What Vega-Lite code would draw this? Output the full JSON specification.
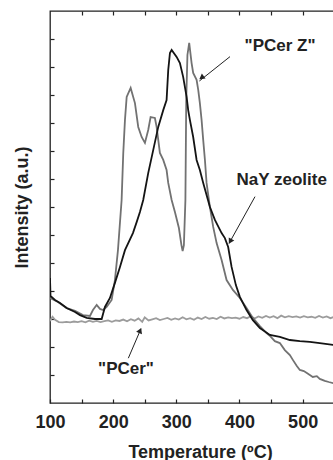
{
  "$schema": "https://vega.github.io/schema/vega-lite/v6.json",
  "width": 300,
  "height": 392,
  "autosize": "none",
  "padding": {"left": 50, "top": 11, "right": 0, "bottom": 57},
  "background": "white",
  "config": {
    "font": "Liberation Sans",
    "view": {"stroke": "#222", "strokeWidth": 1.3},
    "axis": {"grid": false, "domain": false, "tickColor": "#222", "tickWidth": 1.2, "labelColor": "#222", "titleColor": "#222", "labelFont": "Liberation Sans", "titleFont": "Liberation Sans"}
  },
  "resolve": {"axis": {"x": "independent", "y": "independent"}},
  "datasets": {
    "curves": [
      {"s": "PCer", "T": 100, "v": 2.93}, {"s": "PCer", "T": 104, "v": 3.08}, {"s": "PCer", "T": 108, "v": 2.97}, {"s": "PCer", "T": 114, "v": 2.89},
      {"s": "PCer", "T": 120, "v": 2.88}, {"s": "PCer", "T": 126, "v": 2.9}, {"s": "PCer", "T": 132, "v": 2.88}, {"s": "PCer", "T": 138, "v": 2.91},
      {"s": "PCer", "T": 144, "v": 2.89}, {"s": "PCer", "T": 150, "v": 2.92}, {"s": "PCer", "T": 156, "v": 2.88}, {"s": "PCer", "T": 162, "v": 2.94},
      {"s": "PCer", "T": 168, "v": 2.9}, {"s": "PCer", "T": 174, "v": 2.93}, {"s": "PCer", "T": 180, "v": 2.89}, {"s": "PCer", "T": 186, "v": 2.92},
      {"s": "PCer", "T": 192, "v": 2.95}, {"s": "PCer", "T": 198, "v": 2.9}, {"s": "PCer", "T": 204, "v": 2.95}, {"s": "PCer", "T": 210, "v": 2.93},
      {"s": "PCer", "T": 216, "v": 2.98}, {"s": "PCer", "T": 222, "v": 2.92}, {"s": "PCer", "T": 228, "v": 2.99}, {"s": "PCer", "T": 234, "v": 2.94},
      {"s": "PCer", "T": 240, "v": 3.02}, {"s": "PCer", "T": 246, "v": 2.9}, {"s": "PCer", "T": 250, "v": 3.06}, {"s": "PCer", "T": 256, "v": 2.95},
      {"s": "PCer", "T": 262, "v": 2.99}, {"s": "PCer", "T": 268, "v": 3.03}, {"s": "PCer", "T": 274, "v": 2.96}, {"s": "PCer", "T": 280, "v": 3.0},
      {"s": "PCer", "T": 286, "v": 3.04}, {"s": "PCer", "T": 292, "v": 2.97}, {"s": "PCer", "T": 298, "v": 3.02}, {"s": "PCer", "T": 304, "v": 2.98},
      {"s": "PCer", "T": 310, "v": 3.06}, {"s": "PCer", "T": 316, "v": 2.99}, {"s": "PCer", "T": 322, "v": 3.03}, {"s": "PCer", "T": 328, "v": 2.97},
      {"s": "PCer", "T": 334, "v": 3.05}, {"s": "PCer", "T": 340, "v": 3.0}, {"s": "PCer", "T": 346, "v": 3.07}, {"s": "PCer", "T": 352, "v": 3.01},
      {"s": "PCer", "T": 358, "v": 3.04}, {"s": "PCer", "T": 364, "v": 3.0}, {"s": "PCer", "T": 370, "v": 3.08}, {"s": "PCer", "T": 376, "v": 3.02},
      {"s": "PCer", "T": 382, "v": 3.06}, {"s": "PCer", "T": 388, "v": 3.03}, {"s": "PCer", "T": 394, "v": 3.05}, {"s": "PCer", "T": 400, "v": 3.01},
      {"s": "PCer", "T": 406, "v": 3.07}, {"s": "PCer", "T": 412, "v": 3.03}, {"s": "PCer", "T": 418, "v": 3.1}, {"s": "PCer", "T": 424, "v": 3.02},
      {"s": "PCer", "T": 430, "v": 3.09}, {"s": "PCer", "T": 436, "v": 3.04}, {"s": "PCer", "T": 442, "v": 3.11}, {"s": "PCer", "T": 448, "v": 3.05},
      {"s": "PCer", "T": 454, "v": 3.1}, {"s": "PCer", "T": 460, "v": 3.03}, {"s": "PCer", "T": 466, "v": 3.12}, {"s": "PCer", "T": 472, "v": 3.06},
      {"s": "PCer", "T": 478, "v": 3.1}, {"s": "PCer", "T": 484, "v": 3.07}, {"s": "PCer", "T": 490, "v": 3.09}, {"s": "PCer", "T": 496, "v": 3.05},
      {"s": "PCer", "T": 502, "v": 3.1}, {"s": "PCer", "T": 508, "v": 3.06}, {"s": "PCer", "T": 514, "v": 3.08}, {"s": "PCer", "T": 520, "v": 3.04},
      {"s": "PCer", "T": 526, "v": 3.11}, {"s": "PCer", "T": 532, "v": 3.05}, {"s": "PCer", "T": 538, "v": 3.09}, {"s": "PCer", "T": 544, "v": 3.03},
      {"s": "PCer", "T": 550, "v": 3.08},

      {"s": "PCerZ", "T": 100, "v": 3.75}, {"s": "PCerZ", "T": 112.7, "v": 3.61}, {"s": "PCerZ", "T": 126.4, "v": 3.39}, {"s": "PCerZ", "T": 139.6, "v": 3.29},
      {"s": "PCerZ", "T": 152.2, "v": 3.14}, {"s": "PCerZ", "T": 163.3, "v": 3.11}, {"s": "PCerZ", "T": 168.0, "v": 3.32}, {"s": "PCerZ", "T": 173.9, "v": 3.5},
      {"s": "PCerZ", "T": 179.1, "v": 3.36}, {"s": "PCerZ", "T": 183.9, "v": 3.32}, {"s": "PCerZ", "T": 189.7, "v": 3.43}, {"s": "PCerZ", "T": 197.6, "v": 3.68},
      {"s": "PCerZ", "T": 202.8, "v": 4.39}, {"s": "PCerZ", "T": 207.6, "v": 5.46}, {"s": "PCerZ", "T": 213.4, "v": 7.25}, {"s": "PCerZ", "T": 216.0, "v": 8.93},
      {"s": "PCerZ", "T": 218.7, "v": 10.11}, {"s": "PCerZ", "T": 221.4, "v": 10.93}, {"s": "PCerZ", "T": 227.7, "v": 11.25}, {"s": "PCerZ", "T": 234.5, "v": 10.71},
      {"s": "PCerZ", "T": 239.7, "v": 9.86}, {"s": "PCerZ", "T": 245.1, "v": 9.5}, {"s": "PCerZ", "T": 250.3, "v": 9.29}, {"s": "PCerZ", "T": 255.5, "v": 9.75},
      {"s": "PCerZ", "T": 259.3, "v": 10.21}, {"s": "PCerZ", "T": 266.1, "v": 10.18}, {"s": "PCerZ", "T": 268.8, "v": 9.86}, {"s": "PCerZ", "T": 274.0, "v": 8.93},
      {"s": "PCerZ", "T": 279.3, "v": 8.68}, {"s": "PCerZ", "T": 284.6, "v": 8.32}, {"s": "PCerZ", "T": 287.2, "v": 7.86}, {"s": "PCerZ", "T": 292.6, "v": 7.25},
      {"s": "PCerZ", "T": 297.8, "v": 6.82}, {"s": "PCerZ", "T": 304.1, "v": 6.25}, {"s": "PCerZ", "T": 308.1, "v": 5.64}, {"s": "PCerZ", "T": 310.0, "v": 5.43},
      {"s": "PCerZ", "T": 312.0, "v": 5.64}, {"s": "PCerZ", "T": 314.4, "v": 7.25}, {"s": "PCerZ", "T": 315.7, "v": 10.82}, {"s": "PCerZ", "T": 317.6, "v": 12.43},
      {"s": "PCerZ", "T": 320.4, "v": 12.86}, {"s": "PCerZ", "T": 324.2, "v": 12.14}, {"s": "PCerZ", "T": 326.7, "v": 11.79}, {"s": "PCerZ", "T": 332.1, "v": 11.54},
      {"s": "PCerZ", "T": 334.7, "v": 11.18}, {"s": "PCerZ", "T": 337.3, "v": 10.71}, {"s": "PCerZ", "T": 340.0, "v": 10.11}, {"s": "PCerZ", "T": 342.6, "v": 9.39},
      {"s": "PCerZ", "T": 345.3, "v": 8.68}, {"s": "PCerZ", "T": 347.9, "v": 7.86}, {"s": "PCerZ", "T": 353.2, "v": 7.0}, {"s": "PCerZ", "T": 358.4, "v": 6.29},
      {"s": "PCerZ", "T": 363.8, "v": 5.71}, {"s": "PCerZ", "T": 371.7, "v": 5.11}, {"s": "PCerZ", "T": 379.6, "v": 4.39}, {"s": "PCerZ", "T": 389.6, "v": 4.04},
      {"s": "PCerZ", "T": 400.6, "v": 3.75}, {"s": "PCerZ", "T": 411.2, "v": 3.39}, {"s": "PCerZ", "T": 421.2, "v": 3.04}, {"s": "PCerZ", "T": 432.3, "v": 2.75},
      {"s": "PCerZ", "T": 442.9, "v": 2.5}, {"s": "PCerZ", "T": 449.0, "v": 2.38}, {"s": "PCerZ", "T": 456.0, "v": 2.21}, {"s": "PCerZ", "T": 463.9, "v": 2.14},
      {"s": "PCerZ", "T": 471.8, "v": 1.89}, {"s": "PCerZ", "T": 479.8, "v": 1.71}, {"s": "PCerZ", "T": 484.5, "v": 1.54}, {"s": "PCerZ", "T": 490.8, "v": 1.32},
      {"s": "PCerZ", "T": 495.6, "v": 1.18}, {"s": "PCerZ", "T": 501.9, "v": 1.14}, {"s": "PCerZ", "T": 506.7, "v": 1.07}, {"s": "PCerZ", "T": 511.4, "v": 1.0},
      {"s": "PCerZ", "T": 516.1, "v": 0.93}, {"s": "PCerZ", "T": 522.5, "v": 0.96}, {"s": "PCerZ", "T": 527.2, "v": 0.86}, {"s": "PCerZ", "T": 535.1, "v": 0.79},
      {"s": "PCerZ", "T": 541.4, "v": 0.75}, {"s": "PCerZ", "T": 550.0, "v": 0.7},

      {"s": "NaY", "T": 100, "v": 4.46}, {"s": "NaY", "T": 100.8, "v": 3.82}, {"s": "NaY", "T": 107.9, "v": 3.68}, {"s": "NaY", "T": 115.8, "v": 3.57},
      {"s": "NaY", "T": 126.4, "v": 3.39}, {"s": "NaY", "T": 139.6, "v": 3.25}, {"s": "NaY", "T": 147.5, "v": 3.14}, {"s": "NaY", "T": 158.1, "v": 3.04},
      {"s": "NaY", "T": 171.2, "v": 3.0}, {"s": "NaY", "T": 181.8, "v": 3.0}, {"s": "NaY", "T": 187.0, "v": 3.43}, {"s": "NaY", "T": 194.9, "v": 3.75},
      {"s": "NaY", "T": 202.8, "v": 4.29}, {"s": "NaY", "T": 210.8, "v": 4.86}, {"s": "NaY", "T": 218.7, "v": 5.46}, {"s": "NaY", "T": 231.3, "v": 6.07},
      {"s": "NaY", "T": 237.2, "v": 6.46}, {"s": "NaY", "T": 242.4, "v": 6.82}, {"s": "NaY", "T": 247.6, "v": 7.25}, {"s": "NaY", "T": 255.5, "v": 8.21},
      {"s": "NaY", "T": 263.5, "v": 9.04}, {"s": "NaY", "T": 271.4, "v": 9.86}, {"s": "NaY", "T": 279.3, "v": 10.46}, {"s": "NaY", "T": 284.6, "v": 10.82},
      {"s": "NaY", "T": 287.2, "v": 11.89}, {"s": "NaY", "T": 289.9, "v": 12.5}, {"s": "NaY", "T": 292.6, "v": 12.61}, {"s": "NaY", "T": 300.5, "v": 12.36},
      {"s": "NaY", "T": 305.7, "v": 12.14}, {"s": "NaY", "T": 310.9, "v": 11.64}, {"s": "NaY", "T": 316.3, "v": 10.93}, {"s": "NaY", "T": 318.8, "v": 10.46},
      {"s": "NaY", "T": 321.5, "v": 10.11}, {"s": "NaY", "T": 326.7, "v": 9.5}, {"s": "NaY", "T": 332.1, "v": 8.68}, {"s": "NaY", "T": 337.3, "v": 8.32},
      {"s": "NaY", "T": 342.6, "v": 7.86}, {"s": "NaY", "T": 353.2, "v": 7.0}, {"s": "NaY", "T": 361.1, "v": 6.54}, {"s": "NaY", "T": 371.7, "v": 6.07},
      {"s": "NaY", "T": 376.9, "v": 5.89}, {"s": "NaY", "T": 382.1, "v": 5.57}, {"s": "NaY", "T": 387.5, "v": 4.86}, {"s": "NaY", "T": 394.3, "v": 4.21},
      {"s": "NaY", "T": 400.6, "v": 3.79}, {"s": "NaY", "T": 411.2, "v": 3.32}, {"s": "NaY", "T": 421.2, "v": 2.96}, {"s": "NaY", "T": 432.3, "v": 2.68},
      {"s": "NaY", "T": 448.1, "v": 2.43}, {"s": "NaY", "T": 463.9, "v": 2.36}, {"s": "NaY", "T": 479.8, "v": 2.25}, {"s": "NaY", "T": 495.6, "v": 2.21},
      {"s": "NaY", "T": 511.4, "v": 2.18}, {"s": "NaY", "T": 527.2, "v": 2.14}, {"s": "NaY", "T": 550.0, "v": 2.07}
    ],
    "arrows": [
      {"name": "Z", "T": 385.0, "v": 12.37, "T2": 336.5, "v2": 11.5, "hT": 339.9, "hv": 11.62},
      {"name": "NaY", "T": 424.6, "v": 7.37, "T2": 383.5, "v2": 5.7, "hT": 385.3, "hv": 5.77},
      {"name": "PCer", "T": 224.0, "v": 1.6, "T2": 244.0, "v2": 2.65, "hT": 242.7, "hv": 2.59}
    ],
    "labels": [
      {"text": "\"PCer Z\"", "T": 464.2, "v": 12.75},
      {"text": "NaY zeolite", "T": 466.8, "v": 7.96},
      {"text": "\"PCer\"", "T": 220.3, "v": 1.21}
    ]
  },
  "layer": [
    {
      "data": {"name": "curves"},
      "transform": [{"filter": "datum.s === 'PCer'"}],
      "mark": {"type": "line", "color": "#9c9c9c", "strokeWidth": 1.8, "clip": true},
      "encoding": {
        "x": {"field": "T", "type": "quantitative", "scale": {"domain": [100, 575], "nice": false, "zero": false},
              "axis": {"orient": "top", "values": [150, 200, 250, 300, 350, 400, 450, 500, 550], "labels": false, "title": null, "tickSize": -4}},
        "y": {"field": "v", "type": "quantitative", "scale": {"domain": [0, 14], "nice": false, "zero": false}, "axis": null}
      }
    },
    {
      "data": {"name": "curves"},
      "transform": [{"filter": "datum.s === 'PCerZ'"}],
      "mark": {"type": "line", "color": "#727272", "strokeWidth": 1.8, "clip": true},
      "encoding": {
        "x": {"field": "T", "type": "quantitative", "axis": null},
        "y": {"field": "v", "type": "quantitative", "axis": null}
      }
    },
    {
      "data": {"name": "curves"},
      "transform": [{"filter": "datum.s === 'NaY'"}],
      "mark": {"type": "line", "color": "#141414", "strokeWidth": 1.8, "clip": true},
      "encoding": {
        "x": {"field": "T", "type": "quantitative",
              "axis": {"orient": "bottom", "values": [100, 150, 200, 250, 300, 350, 400, 450, 500, 550],
                       "labelExpr": "datum.value % 100 === 0 ? datum.label : ''", "labelFlush": false,
                       "tickSize": -4, "labelPadding": 14, "labelFontSize": 18, "labelFontWeight": "bold",
                       "title": "Temperature (ºC)", "titleFontSize": 18, "titleFontWeight": "bold", "titlePadding": 12}},
        "y": {"field": "v", "type": "quantitative",
              "axis": {"orient": "left", "values": [1, 2, 3, 4, 5, 6, 7, 8, 9, 10, 11, 12, 13], "labels": false, "tickSize": -4,
                       "title": "Intensity (a.u.)", "titleFontSize": 18, "titleFontWeight": "bold", "titlePadding": 18}}
      }
    },
    {
      "data": {"name": "arrows"},
      "mark": {"type": "rule", "color": "#222", "strokeWidth": 1},
      "encoding": {
        "x": {"field": "T", "type": "quantitative", "axis": null},
        "y": {"field": "v", "type": "quantitative", "axis": null},
        "x2": {"field": "T2"},
        "y2": {"field": "v2"}
      }
    },
    {
      "data": {"name": "arrows"},
      "transform": [{"filter": "datum.name === 'Z'"}],
      "mark": {"type": "point", "shape": "triangle-up", "filled": true, "color": "#222", "size": 40, "angle": 233.7, "opacity": 1},
      "encoding": {
        "x": {"field": "hT", "type": "quantitative", "axis": null},
        "y": {"field": "hv", "type": "quantitative", "axis": null}
      }
    },
    {
      "data": {"name": "arrows"},
      "transform": [{"filter": "datum.name === 'NaY'"}],
      "mark": {"type": "point", "shape": "triangle-up", "filled": true, "color": "#222", "size": 40, "angle": 208.9, "opacity": 1},
      "encoding": {
        "x": {"field": "hT", "type": "quantitative", "axis": null},
        "y": {"field": "hv", "type": "quantitative", "axis": null}
      }
    },
    {
      "data": {"name": "arrows"},
      "transform": [{"filter": "datum.name === 'PCer'"}],
      "mark": {"type": "point", "shape": "triangle-up", "filled": true, "color": "#222", "size": 40, "angle": 23, "opacity": 1},
      "encoding": {
        "x": {"field": "hT", "type": "quantitative", "axis": null},
        "y": {"field": "hv", "type": "quantitative", "axis": null}
      }
    },
    {
      "data": {"name": "labels"},
      "mark": {"type": "text", "font": "Liberation Sans", "fontSize": 17, "fontWeight": "bold", "color": "#222", "align": "center", "baseline": "middle"},
      "encoding": {
        "x": {"field": "T", "type": "quantitative", "axis": null},
        "y": {"field": "v", "type": "quantitative", "axis": null},
        "text": {"field": "text"}
      }
    }
  ]
}
